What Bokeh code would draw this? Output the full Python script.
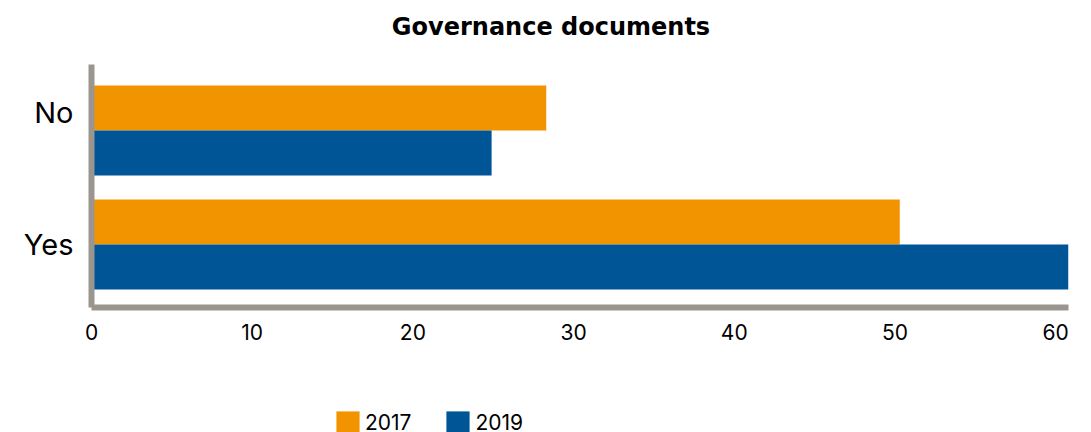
from bokeh.plotting import figure
from bokeh.models import ColumnDataSource, Range1d, Legend, LegendItem, Label, FixedTicker
from bokeh.layouts import column
from bokeh.transform import dodge
from bokeh.embed import file_html
from bokeh.resources import INLINE

categories = ["Yes", "No"]
values_2017 = [50.3, 28.3]
values_2019 = [60.8, 24.9]
series_names = ["2017", "2019"]
x_ticks = [0, 10, 20, 30, 40, 50, 60]
title_text = "Governance documents"

ORANGE = "#F29400"
BLUE = "#005596"
GRAY = "#9B9590"
FONT = "Inter"
LABEL_NUDGE = {"No": 0.158}   # category label sits a little above its bar pair
BORDER_L, BORDER_R = 91, 23

cat_pos = list(range(len(categories)))
source = ColumnDataSource(dict(cat=categories, pos=cat_pos, v2017=values_2017, v2019=values_2019))

# --- title strip ---
head = figure(width=1091, height=64, x_range=Range1d(0, 1), y_range=Range1d(0, 1),
              output_backend="svg", toolbar_location=None, title=None,
              x_axis_location=None, y_axis_location=None,
              min_border_left=BORDER_L, min_border_right=BORDER_R,
              min_border_top=0, min_border_bottom=0)
head.xgrid.visible = False
head.ygrid.visible = False
head.outline_line_color = None
head.add_layout(Label(x=459.5, y=38, x_units="screen", y_units="screen", text=title_text,
                      text_font="DejaVu Sans", text_font_size="24px", text_font_style="bold",
                      text_color="#000000", text_align="center", text_baseline="alphabetic"))

# --- main chart ---
p = figure(
    width=1091, height=296, title=None,
    y_range=Range1d(-0.553, 1.579),
    x_range=Range1d(0, max(values_2019 + values_2017)),
    output_backend="svg", toolbar_location=None,
    min_border_left=BORDER_L, min_border_right=BORDER_R, min_border_top=0, min_border_bottom=53,
)

r1 = p.hbar(y=dodge("pos", 0.1975), right="v2017", left=0, height=0.395,
            source=source, color=ORANGE, line_color=None)
r2 = p.hbar(y=dodge("pos", -0.1975), right="v2019", left=0, height=0.395,
            source=source, color=BLUE, line_color=None)

p.xgrid.visible = False
p.ygrid.visible = False
p.outline_line_color = None

for ax in (p.xaxis[0], p.yaxis[0]):
    ax.axis_line_color = GRAY
    ax.axis_line_width = 6
    ax.major_tick_line_color = None
    ax.minor_tick_line_color = None
    ax.major_tick_out = 0
    ax.major_tick_in = 0
    ax.major_label_text_font = FONT
    ax.major_label_text_color = "#000000"

p.xaxis.ticker = x_ticks
p.xaxis.major_label_text_font_size = "21px"
p.xaxis.major_label_standoff = 16

y_ticks = [pos + LABEL_NUDGE.get(c, 0) for c, pos in zip(categories, cat_pos)]
p.yaxis.ticker = FixedTicker(ticks=y_ticks)
p.yaxis.major_label_overrides = {t: c for t, c in zip(y_ticks, categories)}
p.yaxis.major_label_text_font_size = "29px"
p.yaxis.major_label_standoff = 18

# --- legend strip ---
lg = figure(
    width=1091, height=72, x_range=Range1d(0, 1), y_range=Range1d(100, 101),
    output_backend="svg", toolbar_location=None, title=None,
    x_axis_location=None, y_axis_location=None,
    min_border_left=BORDER_L, min_border_right=BORDER_R, min_border_top=0, min_border_bottom=0,
)
lg.xgrid.visible = False
lg.ygrid.visible = False
lg.outline_line_color = None
d1 = lg.hbar(y="pos", right="v2017", left=0, height=0.4, source=source, color=ORANGE,
             line_color=None, visible=False)
d2 = lg.hbar(y="pos", right="v2019", left=0, height=0.4, source=source, color=BLUE,
             line_color=None, visible=False)

legend = Legend(
    items=[LegendItem(label=series_names[0], renderers=[d1]),
           LegendItem(label=series_names[1], renderers=[d2])],
    orientation="horizontal",
    location=(242, -5),
    glyph_width=29, glyph_height=29,
    label_standoff=3, spacing=32, padding=0, margin=0,
    label_text_font=FONT, label_text_font_size="21px", label_text_color="#000000",
    border_line_color=None, background_fill_alpha=0,
)
lg.add_layout(legend, "center")

layout = column(head, p, lg, spacing=0)
open("out.html", "w").write(file_html(layout, INLINE))
